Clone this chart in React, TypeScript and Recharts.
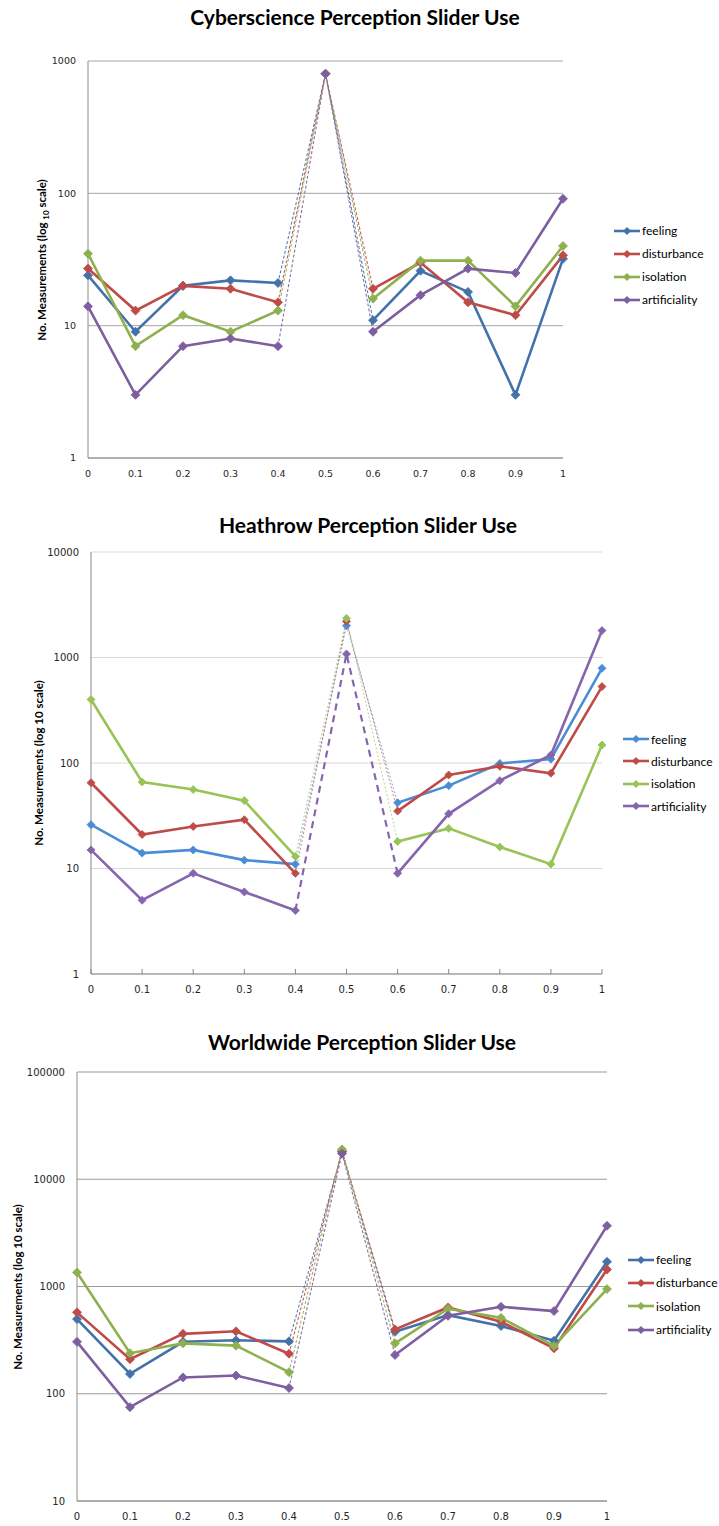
import React from 'react';
import { LineChart, Line, XAxis, YAxis, CartesianGrid } from 'recharts';

const X_LABELS = ['0', '0.1', '0.2', '0.3', '0.4', '0.5', '0.6', '0.7', '0.8', '0.9', '1'];
const SERIES_NAMES = ['feeling', 'disturbance', 'isolation', 'artificiality'];

// Cyberscience
const cyberFeeling = [24, 9, 20, 22, 21, 800, 11, 26, 18, 3, 32];
const cyberDisturbance = [27, 13, 20, 19, 15, 800, 19, 30, 15, 12, 34];
const cyberIsolation = [35, 7, 12, 9, 13, 800, 16, 31, 31, 14, 40];
const cyberArtificiality = [14, 3, 7, 8, 7, 800, 9, 17, 27, 25, 91];
const CYBER_TICKS = [1, 10, 100, 1000];

// Heathrow
const heathrowFeeling = [26, 14, 15, 12, 11, 2000, 42, 61, 99, 109, 790];
const heathrowDisturbance = [65, 21, 25, 29, 9, 2200, 35, 77, 93, 80, 530];
const heathrowIsolation = [400, 66, 56, 44, 13, 2350, 18, 24, 16, 11, 148];
const heathrowArtificiality = [15, 5, 9, 6, 4, 1080, 9, 33, 68, 119, 1800];
const HEATHROW_TICKS = [1, 10, 100, 1000, 10000];

// Worldwide
const worldFeeling = [497, 153, 305, 315, 308, 18000, 378, 541, 428, 312, 1700];
const worldDisturbance = [574, 210, 362, 382, 236, 18300, 398, 638, 469, 265, 1442];
const worldIsolation = [1353, 239, 295, 281, 159, 19000, 295, 620, 510, 279, 946];
const worldArtificiality = [305, 75, 142, 148, 113, 17400, 230, 533, 647, 590, 3680];
const WORLD_TICKS = [10, 100, 1000, 10000, 100000];

const MID = '0.5';
const BRIDGE = ['0.4', '0.5', '0.6'];

const buildRows = (series: number[][]) =>
  X_LABELS.map((x, i) => {
    const row: Record<string, any> = { x };
    series.forEach((vals, s) => {
      row[`s${s}`] = x === MID ? null : vals[i];
      row[`d${s}`] = BRIDGE.includes(x) ? vals[i] : null;
    });
    return row;
  });

const diamond = (color: string, r: number, only?: string) => (p: any) => {
  const { cx, cy, index, payload } = p;
  if (cx == null || cy == null || p.value == null || (only && payload.x !== only)) {
    return <g key={`n-${index}`} />;
  }
  return (
    <polygon
      key={`d-${index}`}
      points={`${cx},${cy - r} ${cx + r},${cy} ${cx},${cy + r} ${cx - r},${cy}`}
      fill={color}
      stroke={color}
      strokeWidth={0.8}
    />
  );
};

interface DashStyle {
  width: number;
  dash: string;
  opacity: number;
}

interface ChartProps {
  title: string;
  titleX: number;
  titleY: number;
  top: number;
  height: number;
  plot: { left: number; right: number; top: number; bottom: number };
  ticks: number[];
  series: number[][];
  colors: string[];
  gridColor: string;
  axisColor: string;
  tickFont: number;
  marker: number;
  dashes: DashStyle[];
  xTickInside?: boolean;
  yLabelX: number;
  subscript?: boolean;
  legend: { x: number; y: number; gap: number };
}

const TICK_FONT = '"DejaVu Sans", Verdana, sans-serif';
const TEXT_FONT = 'Lato, "Open Sans", sans-serif';

const PerceptionChart: React.FC<ChartProps> = (c) => {
  const data = buildRows(c.series);
  const yAxisWidth = 60;
  const xAxisHeight = 20;
  const tick = { fontSize: c.tickFont, fill: '#262626', fontFamily: TICK_FONT };
  const yCenter = (c.plot.top + c.plot.bottom) / 2;

  return (
    <div style={{ position: 'absolute', left: 0, top: c.top, width: 719, height: c.height }}>
      <div
        style={{
          position: 'absolute',
          left: c.titleX - 250,
          top: c.titleY - 13,
          width: 500,
          lineHeight: '26px',
          textAlign: 'center',
          fontFamily: TEXT_FONT,
          fontWeight: 700,
          fontSize: 21,
          color: '#000',
        }}
      >
        {c.title}
      </div>
      <div
        style={{
          position: 'absolute',
          left: c.yLabelX,
          top: yCenter,
          transform: 'translate(-50%, -50%) rotate(-90deg)',
          whiteSpace: 'nowrap',
          fontFamily: TEXT_FONT,
          fontWeight: 700,
          fontSize: 11.5,
          color: '#000',
        }}
      >
        {c.subscript ? (
          <>
            No. Measurements (log <sub style={{ fontSize: 8 }}>10</sub> scale)
          </>
        ) : (
          'No. Measurements (log 10 scale)'
        )}
      </div>
      <LineChart
        width={719}
        height={c.height}
        data={data}
        margin={{
          top: c.plot.top,
          right: 719 - c.plot.right,
          bottom: c.height - c.plot.bottom - xAxisHeight,
          left: c.plot.left - yAxisWidth,
        }}
      >
        <CartesianGrid vertical={false} stroke={c.gridColor} />
        <XAxis
          dataKey="x"
          height={xAxisHeight}
          tick={tick}
          axisLine={{ stroke: c.axisColor }}
          tickLine={c.xTickInside ? { stroke: c.axisColor } : false}
          tickSize={c.xTickInside ? -5 : 6}
          tickMargin={c.xTickInside ? 17 : 6}
          interval={0}
        />
        <YAxis
          type="number"
          scale="log"
          domain={[c.ticks[0], c.ticks[c.ticks.length - 1]]}
          ticks={c.ticks}
          allowDataOverflow
          width={yAxisWidth}
          tick={tick}
          axisLine={{ stroke: c.axisColor }}
          tickLine={false}
          tickMargin={6}
        />
        {c.colors.map((col, s) => (
          <Line
            key={`d${s}`}
            dataKey={`d${s}`}
            stroke={col}
            strokeWidth={c.dashes[s].width}
            strokeDasharray={c.dashes[s].dash}
            strokeOpacity={c.dashes[s].opacity}
            dot={diamond(col, c.marker, MID)}
            activeDot={false}
            isAnimationActive={false}
            connectNulls={false}
          />
        ))}
        {c.colors.map((col, s) => (
          <Line
            key={`s${s}`}
            dataKey={`s${s}`}
            stroke={col}
            strokeWidth={2.6}
            dot={diamond(col, c.marker)}
            activeDot={false}
            isAnimationActive={false}
            connectNulls={false}
          />
        ))}
      </LineChart>
      <div style={{ position: 'absolute', left: c.legend.x, top: c.legend.y }}>
        {SERIES_NAMES.map((name, s) => (
          <div
            key={name}
            style={{ display: 'flex', alignItems: 'center', height: c.legend.gap }}
          >
            <svg width={26} height={10} style={{ display: 'block' }}>
              <line x1={0} y1={5} x2={26} y2={5} stroke={c.colors[s]} strokeWidth={2.6} />
              <polygon points="13,1 17,5 13,9 9,5" fill={c.colors[s]} />
            </svg>
            <span
              style={{
                marginLeft: 2,
                fontFamily: TEXT_FONT,
                fontSize: 12,
                color: '#000',
                whiteSpace: 'nowrap',
              }}
            >
              {name}
            </span>
          </div>
        ))}
      </div>
    </div>
  );
};

const CYBER_COLORS = ['#4372AA', '#BE4B48', '#8FB04E', '#7D5FA0'];
const HEATHROW_COLORS = ['#4A8DD6', '#BE4B48', '#98C455', '#8565AE'];
const WORLD_COLORS = ['#4372AA', '#BE4B48', '#8FB04E', '#7D5FA0'];

const thin = (opacity = 0.9): DashStyle => ({ width: 1.1, dash: '3 2', opacity });

export default function App() {
  return (
    <div
      style={{
        position: 'absolute',
        left: 0,
        top: 0,
        width: 719,
        height: 1526,
        background: '#fff',
        overflow: 'hidden',
      }}
    >
      <PerceptionChart
        title="Cyberscience Perception Slider Use"
        titleX={355}
        titleY={17}
        top={0}
        height={500}
        plot={{ left: 88, right: 563, top: 61, bottom: 458 }}
        ticks={CYBER_TICKS}
        series={[cyberFeeling, cyberDisturbance, cyberIsolation, cyberArtificiality]}
        colors={CYBER_COLORS}
        gridColor="#A6A6A6"
        axisColor="#8C8C8C"
        tickFont={9.5}
        marker={4.5}
        dashes={[thin(), thin(), thin(), thin()]}
        yLabelX={43}
        subscript
        legend={{ x: 614, y: 219, gap: 23 }}
      />
      <PerceptionChart
        title="Heathrow Perception Slider Use"
        titleX={368}
        titleY={25}
        top={500}
        height={515}
        plot={{ left: 91, right: 602, top: 52, bottom: 474 }}
        ticks={HEATHROW_TICKS}
        series={[heathrowFeeling, heathrowDisturbance, heathrowIsolation, heathrowArtificiality]}
        colors={HEATHROW_COLORS}
        gridColor="#D9D9D9"
        axisColor="#868686"
        tickFont={10}
        marker={4}
        dashes={[
          { width: 1, dash: '2 2', opacity: 0.7 },
          { width: 1, dash: '2 2', opacity: 0.7 },
          { width: 1, dash: '2 2', opacity: 0.7 },
          { width: 2.2, dash: '7 5', opacity: 1 },
        ]}
        xTickInside
        yLabelX={38}
        legend={{ x: 623, y: 228, gap: 22.3 }}
      />
      <PerceptionChart
        title="Worldwide Perception Slider Use"
        titleX={362}
        titleY={27}
        top={1015}
        height={511}
        plot={{ left: 77, right: 607, top: 57, bottom: 486 }}
        ticks={WORLD_TICKS}
        series={[worldFeeling, worldDisturbance, worldIsolation, worldArtificiality]}
        colors={WORLD_COLORS}
        gridColor="#9A9A9A"
        axisColor="#8C8C8C"
        tickFont={10}
        marker={4.5}
        dashes={[thin(), thin(), thin(), thin()]}
        yLabelX={17}
        legend={{ x: 628, y: 233, gap: 23.3 }}
      />
    </div>
  );
}
